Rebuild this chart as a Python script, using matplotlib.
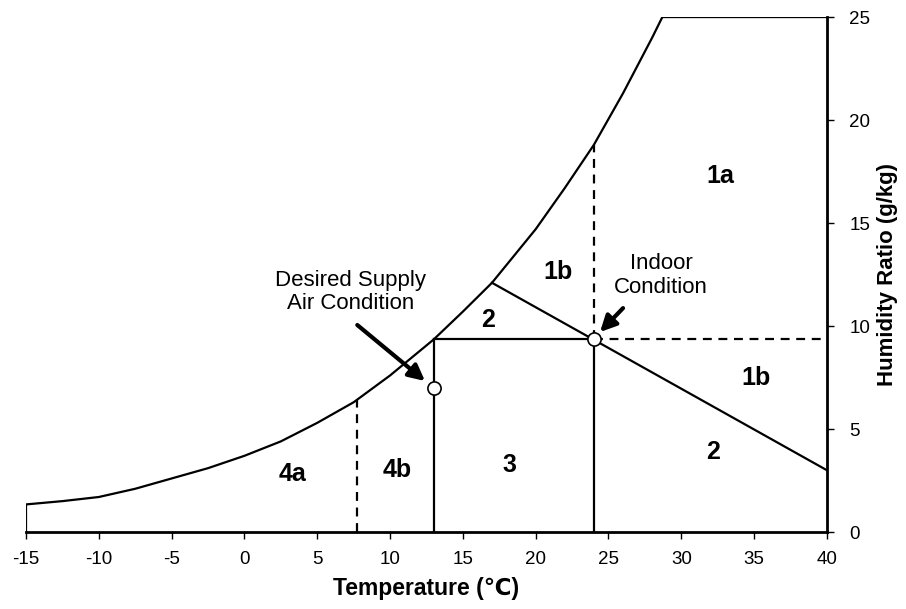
import matplotlib
matplotlib.use("Agg")
import matplotlib.pyplot as plt

plt.rcParams['font.family'] = ['Liberation Sans', 'DejaVu Sans']

# saturation curve (temperature in C, humidity ratio in g/kg)
sat_temp = [-15, -15, -12.5, -10, -7.5, -5, -2.5, 0, 2.5, 5, 7.5, 10, 13, 15, 17, 20, 22, 24, 26, 28, 28.7, 40]
sat_w = [0, 1.34, 1.5, 1.7, 2.1, 2.6, 3.1, 3.7, 4.4, 5.3, 6.3, 7.6, 9.35, 10.7, 12.1, 14.7, 16.7, 18.8, 21.3, 24.0, 25, 25]

indoor = (24, 9.35)
supply = (13, 7.0)

# zone boundaries
split_temp = 7.7
split_w = 6.4
zone2_line_x = [17, 40]
zone2_line_y = [12.1, 3.0]
indoor_sat_w = 18.8

zone_labels = ["1a", "1b", "1b", "2", "2", "3", "4a", "4b"]
zone_x = [32.7, 21.5, 35.1, 16.7, 32.2, 18.2, 3.3, 10.5]
zone_y = [17.3, 12.6, 7.5, 10.3, 3.9, 3.25, 2.8, 3.0]

# annotation arrows: (tail, tip)
supply_arrow = ((7.75, 10.05), (12.4, 7.33))
indoor_arrow = ((26.0, 10.87), (24.42, 9.71))

xticks = list(range(-15, 41, 5))
yticks = list(range(0, 26, 5))

fig = plt.figure(figsize=(9.06, 6.09), dpi=100)
ax = fig.add_axes([0.0287, 0.1264, 0.884, 0.8456])

lw = 1.6
dash = (0, (4, 3))
ax.plot(sat_temp, sat_w, color='k', lw=lw)
ax.plot([split_temp, split_temp], [0, split_w], color='k', lw=lw, ls=dash)
ax.plot([supply[0], supply[0]], [0, indoor[1]], color='k', lw=lw)
ax.plot([indoor[0], indoor[0]], [0, indoor[1]], color='k', lw=lw)
ax.plot([supply[0], indoor[0]], [indoor[1], indoor[1]], color='k', lw=lw)
ax.plot([indoor[0], indoor[0]], [indoor[1], indoor_sat_w], color='k', lw=lw, ls=dash)
ax.plot([indoor[0], 40], [indoor[1], indoor[1]], color='k', lw=lw, ls=dash)
ax.plot(zone2_line_x, zone2_line_y, color='k', lw=lw)

ax.plot([indoor[0], supply[0]], [indoor[1], supply[1]], ls='none', marker='o',
        ms=9.5, mfc='white', mec='k', mew=1.2, zorder=5)

for lab, x, y in zip(zone_labels, zone_x, zone_y):
    ax.text(x, y, lab, fontsize=18, fontweight='bold', ha='center', va='center')

ax.text(7.3, 11.65, "Desired Supply\nAir Condition", ha='center', va='center',
        fontsize=16, linespacing=1.15)
ax.text(28.6, 12.45, "Indoor\nCondition", ha='center', va='center',
        fontsize=16, linespacing=1.15)
for tail, tip in [supply_arrow, indoor_arrow]:
    ax.annotate("", xy=tip, xytext=tail,
                arrowprops=dict(arrowstyle='-|>', color='k', lw=3, mutation_scale=24,
                                shrinkA=0, shrinkB=0))

ax.set_xlim(-15, 40)
ax.set_ylim(0, 25)
ax.set_xticks(xticks)
ax.set_xticklabels([str(t) for t in xticks], fontsize=13.5)
ax.yaxis.tick_right()
ax.yaxis.set_label_position('right')
ax.set_yticks(yticks)
ax.set_yticklabels([str(t) for t in yticks], fontsize=13.5)
ax.spines['left'].set_visible(False)
ax.spines['top'].set_visible(False)
ax.spines['bottom'].set_linewidth(2)
ax.spines['right'].set_linewidth(2)
ax.tick_params(direction='out', length=5, width=1)
ax.tick_params(axis='x', pad=9)
ax.tick_params(axis='y', pad=11)
ax.set_xlabel("Temperature (℃)", fontsize=16.5, fontweight='bold', labelpad=6)
ax.set_ylabel("Humidity Ratio (g/kg)", fontsize=16, fontweight='bold', labelpad=5)

fig.savefig("out.png", dpi=100)
